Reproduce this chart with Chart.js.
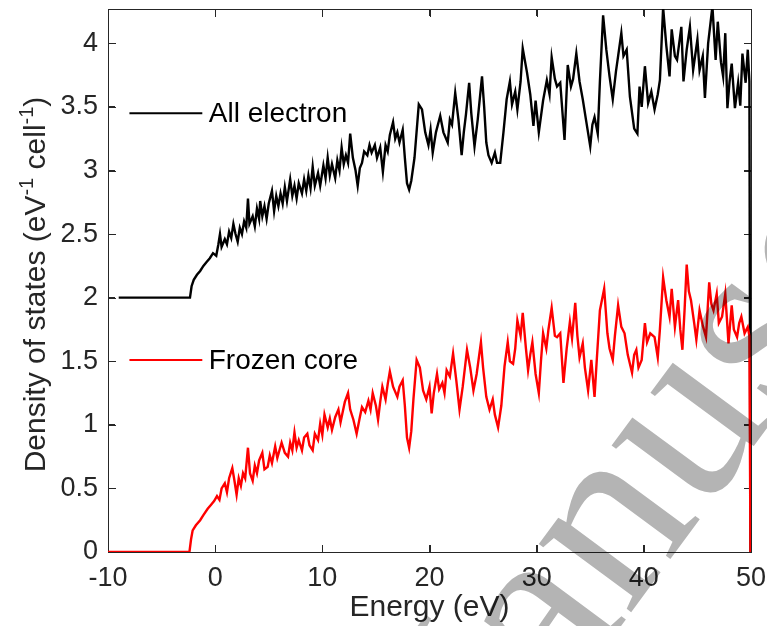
<!DOCTYPE html>
<html>
<head>
<meta charset="utf-8">
<script src="https://cdn.jsdelivr.net/npm/chart.js@4.4.1/dist/chart.umd.min.js"></script>
<style>
  html, body { margin: 0; padding: 0; background: #fff; }
  #wrap { width: 767px; height: 626px; }
</style>
</head>
<body>
<div id="wrap"><canvas id="dos" width="767" height="626"></canvas></div>
<script>
// energy (eV) / density of states
const energyAll = [-9, -2.35, -2.2, -2.0, -1.7, -1.4, -1.1, -0.8, -0.5, -0.2, 0.1, 0.3, 0.45, 0.6, 0.9, 1.1, 1.3, 1.5, 1.7, 1.9,
  2.1, 2.3, 2.5, 2.7, 2.9, 3.06, 3.2, 3.5, 3.7, 3.9, 4.1, 4.2, 4.4, 4.6, 4.8, 5.0, 5.3, 5.5, 5.7, 5.9,
  6.1, 6.3, 6.5, 6.7, 7.0, 7.2, 7.4, 7.6, 7.8, 8.1, 8.3, 8.5, 8.7, 8.9, 9.1, 9.3, 9.6, 9.8, 10.1, 10.3,
  10.5, 10.7, 10.9, 11.2, 11.4, 11.6, 11.8, 12.0, 12.2, 12.4, 12.6, 12.85, 13.1, 13.3, 13.5, 13.7, 13.9, 14.2, 14.4, 14.6,
  14.9, 15.1, 15.4, 15.65, 15.9, 16.1, 16.3, 16.6, 16.8, 17.0, 17.2, 17.5, 17.7, 17.9, 18.1, 18.3, 18.6, 19.0, 19.3, 19.6,
  19.9, 20.1, 20.3, 20.6, 21.0, 21.3, 21.7, 21.9, 22.1, 22.4, 22.7, 23.0, 23.2, 23.4, 23.7, 23.9, 24.2, 24.5, 24.9, 25.1,
  25.3, 25.5, 25.8, 26.1, 26.3, 26.6, 26.9, 27.2, 27.5, 27.7, 28.0, 28.2, 28.5, 28.7, 29.1, 29.4, 29.7, 29.9, 30.2, 30.6,
  30.95, 31.2, 31.4, 31.7, 31.9, 32.2, 32.6, 32.9, 33.2, 33.4, 33.7, 34.0, 34.3, 34.6, 35.0, 35.2, 35.4, 35.7, 35.9, 36.2,
  36.5, 36.8, 37.1, 37.4, 37.6, 37.9, 38.1, 38.4, 38.7, 39.1, 39.4, 39.6, 39.8, 40.1, 40.4, 40.7, 41.0, 41.3, 41.5, 41.8,
  42.1, 42.4, 42.6, 42.9, 43.1, 43.5, 43.7, 44.0, 44.3, 44.6, 45.0, 45.2, 45.5, 45.7, 46.0, 46.4, 46.7, 46.9, 47.2, 47.4,
  47.6, 47.8, 48.0, 48.2, 48.5, 48.8, 49.0, 49.2, 49.5, 49.7, 49.85, 49.95];
const dosAll = [2.0, 2.0, 2.09, 2.14, 2.18, 2.21, 2.25, 2.28, 2.31, 2.35, 2.33, 2.42, 2.5, 2.4, 2.46, 2.42, 2.52, 2.47, 2.58, 2.5,
  2.44, 2.55, 2.5, 2.6, 2.55, 2.78, 2.58, 2.64, 2.56, 2.7, 2.62, 2.76, 2.64, 2.72, 2.62, 2.74, 2.84, 2.68, 2.8, 2.72,
  2.82, 2.74, 2.87, 2.76, 2.93, 2.8, 2.88, 2.78, 2.9, 2.82, 2.93, 2.84, 2.96, 2.86, 3.03, 2.88, 2.98, 2.88, 3.04, 2.94,
  3.1, 2.96, 3.05, 2.94, 3.08, 3.0, 3.18, 3.05, 3.12, 3.06, 3.29, 3.1, 3.0, 2.88, 3.02, 3.06, 3.15, 3.12, 3.2, 3.14,
  3.2, 3.1, 3.18, 2.99, 3.2, 3.15, 3.28, 3.38, 3.25, 3.3, 3.22, 3.32, 3.1, 2.9, 2.85, 2.92, 3.1, 3.52, 3.48, 3.3,
  3.2, 3.32, 3.14, 3.3, 3.43, 3.3, 3.22, 3.4, 3.36, 3.61, 3.4, 3.12, 3.3, 3.44, 3.69, 3.45, 3.19, 3.4, 3.74, 3.5,
  3.22, 3.12, 3.06, 3.14, 3.06, 3.06, 3.3, 3.56, 3.7, 3.52, 3.62, 3.48, 3.7, 3.96, 3.77, 3.6, 3.35, 3.55, 3.3, 3.55,
  3.71, 3.6, 3.89, 3.72, 3.66, 3.69, 3.24, 3.83, 3.66, 3.72, 3.92, 3.7, 3.56, 3.4, 3.19, 3.36, 3.42, 3.29, 3.7, 4.22,
  3.95, 3.74, 3.56, 3.78, 3.9, 4.08, 3.9, 3.95, 3.58, 3.33, 3.29, 3.66, 3.5, 3.82, 3.53, 3.62, 3.48, 3.6, 3.71, 4.28,
  3.98, 3.74, 4.11, 3.9, 3.87, 4.13, 3.7, 3.95, 4.13, 3.79, 4.03, 3.79, 3.9, 3.57, 4.0, 4.29, 3.87, 4.17, 3.85, 3.74,
  4.08, 3.49, 3.7, 3.84, 3.49, 3.69, 3.51, 3.92, 3.69, 3.95, 3.7, 0];

const energyFrozen = [-10, -2.4, -2.25, -2.1, -1.8, -1.4, -1.1, -0.7, -0.4, -0.1, 0.17, 0.4, 0.6, 0.9, 1.1, 1.3, 1.6, 1.8, 2.0, 2.2,
  2.4, 2.6, 2.8, 3.06, 3.25, 3.5, 3.7, 3.9, 4.1, 4.4, 4.6, 4.9, 5.1, 5.3, 5.6, 5.8, 6.0, 6.2, 6.5, 6.8,
  7.0, 7.2, 7.4, 7.6, 7.8, 8.1, 8.3, 8.6, 8.8, 9.1, 9.3, 9.6, 9.8, 10.0, 10.2, 10.5, 10.7, 10.9, 11.2, 11.5,
  11.7, 11.9, 12.1, 12.4, 12.6, 12.9, 13.2, 13.5, 13.7, 14.0, 14.3, 14.5, 14.7, 15.0, 15.2, 15.4, 15.6, 15.9, 16.1, 16.3,
  16.6, 17.0, 17.2, 17.5, 17.7, 17.9, 18.1, 18.3, 18.5, 18.8, 19.1, 19.4, 19.7, 20.0, 20.2, 20.4, 20.7, 20.9, 21.2, 21.4,
  21.6, 21.9, 22.2, 22.5, 22.8, 23.1, 23.5, 23.8, 24.1, 24.4, 24.8, 25.0, 25.3, 25.6, 25.9, 26.1, 26.4, 26.7, 27.0, 27.3,
  27.5, 27.8, 28.0, 28.2, 28.5, 28.7, 29.0, 29.2, 29.4, 29.6, 29.9, 30.2, 30.4, 30.6, 30.9, 31.1, 31.4, 31.7, 31.9, 32.2,
  32.5, 32.8, 33.1, 33.3, 33.6, 33.8, 34.0, 34.3, 34.5, 34.8, 35.1, 35.4, 35.6, 35.9, 36.3, 36.6, 36.8, 37.1, 37.3, 37.6,
  37.9, 38.2, 38.5, 38.9, 39.1, 39.3, 39.5, 39.8, 40.1, 40.3, 40.6, 41.0, 41.3, 41.5, 41.8, 42.1, 42.4, 42.6, 42.9, 43.2,
  43.4, 43.6, 43.8, 44.0, 44.2, 44.4, 44.7, 44.9, 45.2, 45.5, 45.8, 46.1, 46.3, 46.5, 46.8, 47.0, 47.3, 47.6, 47.9, 48.2,
  48.4, 48.7, 48.9, 49.1, 49.4, 49.7, 49.85, 49.95];
const dosFrozen = [0, 0, 0.1, 0.17, 0.21, 0.25, 0.29, 0.34, 0.37, 0.4, 0.44, 0.41, 0.5, 0.54, 0.47, 0.58, 0.66, 0.56, 0.45, 0.58,
  0.52, 0.62, 0.58, 0.82, 0.62, 0.56, 0.68, 0.62, 0.72, 0.78, 0.65, 0.67, 0.76, 0.7, 0.83, 0.74, 0.8, 0.86, 0.78, 0.75,
  0.86, 0.8, 0.94, 0.82, 0.88, 0.8, 0.9, 0.93, 0.84, 0.8, 0.93, 0.88, 1.01, 0.92, 1.08, 0.98, 1.05, 0.96, 1.06, 1.12,
  1.02, 1.1, 1.18, 1.25, 1.12, 1.04, 0.93, 1.06, 1.14, 1.1, 1.19, 1.12, 1.25, 1.15, 1.04, 1.18, 1.3, 1.2, 1.32, 1.42,
  1.3, 1.22, 1.3, 1.35, 1.15, 0.9, 0.82, 0.95, 1.2, 1.51, 1.45, 1.27, 1.2, 1.3, 1.09, 1.25, 1.4, 1.28, 1.33, 1.25,
  1.43, 1.38, 1.56, 1.35, 1.12, 1.3, 1.59, 1.45, 1.27, 1.4, 1.65, 1.45, 1.22, 1.12, 1.2, 1.08, 0.98, 1.15, 1.46, 1.65,
  1.5, 1.48, 1.6, 1.82, 1.7, 1.88, 1.6, 1.43, 1.55, 1.65, 1.4, 1.25, 1.5, 1.72, 1.6, 1.75, 1.92, 1.7, 1.69, 1.72,
  1.33, 1.6, 1.81, 1.68, 1.96, 1.7, 1.53, 1.64, 1.45, 1.27, 1.51, 1.22, 1.5, 1.9, 2.07, 1.72, 1.6, 1.51, 1.7, 1.94,
  1.77, 1.72, 1.55, 1.41, 1.55, 1.59, 1.45, 1.51, 1.8, 1.65, 1.72, 1.69, 1.53, 1.75, 2.16, 1.98, 1.85, 2.07, 1.77, 1.98,
  1.75, 1.59, 1.9, 2.26, 2.05, 1.98, 1.8, 1.67, 1.9, 1.78, 1.69, 2.12, 1.95, 1.9, 2.03, 1.8, 1.85, 2.03, 1.64, 1.94,
  1.75, 1.69, 1.8, 1.85, 1.72, 1.77, 1.7, 0];

const xTicks = [-10, 0, 10, 20, 30, 40, 50];
const yTicks = [0, 0.5, 1, 1.5, 2, 2.5, 3, 3.5, 4];
const seriesNames = ['All electron', 'Frozen core'];
const seriesColors = ['#000000', '#ff0000'];
const legendY = [3.45, 1.51];

const FONT = '"Liberation Sans", Arial, Helvetica, sans-serif';
const AXIS = '#262626';

const toPoints = (xs, ys) => xs.map((x, i) => ({ x, y: ys[i] }));

// axis pieces shared by the four sides: inward ticks (negative length), no grid
const sideGrid = { display: true, drawOnChartArea: false, drawTicks: true, tickLength: -7, color: AXIS, lineWidth: 1 };
const sideBorder = { display: true, color: AXIS, width: 1 };

const figPlugin = {
  id: 'figdecor',
  beforeDatasetsDraw(chart) {
    // plain box round the plot with inward ticks, under the curves
    const ctx = chart.ctx;
    const a = chart.chartArea;
    const xs = chart.scales.x, ys = chart.scales.y;
    ctx.save();
    ctx.fillStyle = AXIS;
    ctx.fillRect(a.left, a.top, 1, a.bottom - a.top + 1);
    ctx.fillRect(a.right, a.top, 1, a.bottom - a.top + 1);
    ctx.fillRect(a.left, a.top, a.right - a.left + 1, 1);
    ctx.fillRect(a.left, a.bottom, a.right - a.left + 1, 1);
    for (let i = 0; i < xTicks.length; i++) {
      const px = Math.round(xs.getPixelForValue(xTicks[i]));
      ctx.fillRect(px, a.bottom - 7, 1, 7);
      ctx.fillRect(px, a.top + 1, 1, 7);
    }
    for (let i = 0; i < yTicks.length; i++) {
      const py = Math.round(ys.getPixelForValue(yTicks[i]));
      ctx.fillRect(a.left + 1, py, 7, 1);
      ctx.fillRect(a.right - 7, py, 7, 1);
    }
    ctx.restore();
  },
  afterDatasetsDraw(chart) {
    const ctx = chart.ctx;
    const xs = chart.scales.x, ys = chart.scales.y;
    ctx.save();
    seriesNames.forEach((name, i) => {
      const py = ys.getPixelForValue(legendY[i]);
      ctx.strokeStyle = seriesColors[i];
      ctx.lineWidth = 2;
      ctx.beginPath();
      ctx.moveTo(xs.getPixelForValue(-8), py);
      ctx.lineTo(xs.getPixelForValue(-1.2), py);
      ctx.stroke();
      ctx.fillStyle = '#000';
      ctx.font = '28px ' + FONT;
      ctx.textBaseline = 'middle';
      ctx.textAlign = 'left';
      ctx.fillText(name, xs.getPixelForValue(-0.6), py + 1);
    });
    ctx.restore();
  },
  afterDraw(chart) {
    const ctx = chart.ctx;
    const a = chart.chartArea;
    // y axis title with real superscripts
    const parts = [['Density of states (eV', 30, 0], ['-1', 20, -12], [' cell', 30, 0], ['-1', 20, -12], [')', 30, 0]];
    ctx.save();
    ctx.fillStyle = AXIS;
    ctx.textBaseline = 'alphabetic';
    ctx.textAlign = 'left';
    let total = 0;
    parts.forEach(([s, size]) => { ctx.font = size + 'px ' + FONT; total += ctx.measureText(s).width; });
    ctx.translate(45, (a.top + a.bottom) / 2 + 4);
    ctx.rotate(-Math.PI / 2);
    let cx = -total / 2;
    parts.forEach(([s, size, dy]) => {
      ctx.font = size + 'px ' + FONT;
      ctx.fillText(s, cx, dy);
      cx += ctx.measureText(s).width;
    });
    ctx.restore();

    // watermark
    ctx.save();
    ctx.globalCompositeOperation = 'multiply';
    ctx.fillStyle = '#b4b4b4';
    ctx.font = '250px "Liberation Serif", "Times New Roman", serif';
    ctx.translate(430, 885);
    ctx.rotate(-53.6 * Math.PI / 180);
    ctx.textBaseline = 'alphabetic';
    ctx.fillText('Manuscript', 0, 0);
    ctx.restore();
  }
};

new Chart(document.getElementById('dos'), {
  type: 'scatter',
  data: {
    datasets: [
      { label: seriesNames[1], data: toPoints(energyFrozen, dosFrozen), borderColor: seriesColors[1],
        showLine: true, borderWidth: 2.4, pointRadius: 0, tension: 0, order: 0 },
      { label: seriesNames[0], data: toPoints(energyAll, dosAll), borderColor: seriesColors[0],
        showLine: true, borderWidth: 2.4, pointRadius: 0, tension: 0, order: 1 },
    ],
  },
  options: {
    responsive: false,
    animation: false,
    devicePixelRatio: 1,
    layout: { padding: { top: 9, right: 16, left: 0, bottom: 0 } },
    plugins: { legend: { display: false }, tooltip: { enabled: false } },
    scales: {
      x: {
        type: 'linear', position: 'bottom', min: -10, max: 50,
        afterBuildTicks: s => { s.ticks = xTicks.map(v => ({ value: v })); },
        afterFit: s => { s.height = 74; s.paddingLeft = 0; s.paddingRight = 0; },
        grid: sideGrid,
        border: sideBorder,
        ticks: { color: AXIS, font: { family: FONT, size: 27 }, padding: 17, maxRotation: 0, autoSkip: false, callback: v => String(v) },
        title: { display: true, text: 'Energy (eV)', color: AXIS, font: { family: FONT, size: 30 }, padding: { top: 0, bottom: 0 } },
      },
      x2: {
        axis: 'x', type: 'linear', position: 'top', min: -10, max: 50,
        afterBuildTicks: s => { s.ticks = xTicks.map(v => ({ value: v })); },
        afterFit: s => { s.height = 0; s.paddingLeft = 0; s.paddingRight = 0; },
        grid: sideGrid,
        border: sideBorder,
        ticks: { display: false },
      },
      y: {
        type: 'linear', position: 'left', min: 0, max: 4.27,
        ticks: { color: AXIS, font: { family: FONT, size: 27 }, padding: 17, callback: v => String(v) },
        afterBuildTicks: s => { s.ticks = yTicks.map(v => ({ value: v })); },
        afterFit: s => { s.width = 108; s.paddingTop = 0; s.paddingBottom = 0; },
        grid: sideGrid,
        border: sideBorder,
      },
      y2: {
        axis: 'y', type: 'linear', position: 'right', min: 0, max: 4.27,
        afterBuildTicks: s => { s.ticks = yTicks.map(v => ({ value: v })); },
        afterFit: s => { s.width = 0; s.paddingTop = 0; s.paddingBottom = 0; },
        grid: sideGrid,
        border: sideBorder,
        ticks: { display: false },
      },
    },
  },
  plugins: [figPlugin],
});
</script>
</body>
</html>
